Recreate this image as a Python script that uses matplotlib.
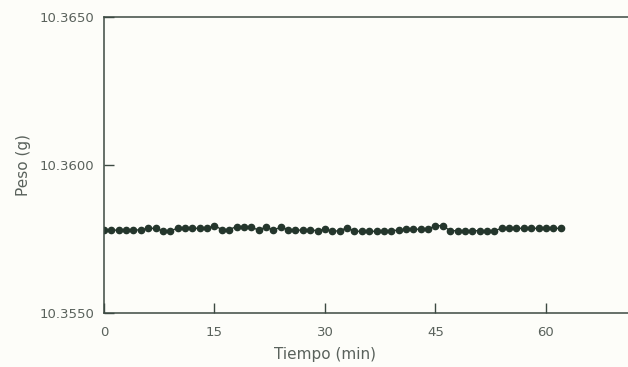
import matplotlib
matplotlib.use("Agg")
import matplotlib.pyplot as plt
import numpy as np

# Data: time (min) and weight (g)
tiempo = list(range(0, 63))
peso = [
    10.35780, 10.35780, 10.35780, 10.35780, 10.35780, 10.35781,   # 0-5
    10.35786, 10.35786,                                           # 6-7
    10.35777, 10.35778,                                           # 8-9
    10.35786, 10.35786, 10.35786, 10.35786, 10.35786,             # 10-14
    10.35795,                                                     # 15
    10.35782, 10.35782,                                           # 16-17
    10.35792, 10.35792, 10.35790,                                 # 18-20
    10.35780,                                                     # 21
    10.35791,                                                     # 22
    10.35780,                                                     # 23
    10.35790,                                                     # 24
    10.35782, 10.35780, 10.35780, 10.35782, 10.35777,             # 25-29
    10.35784, 10.35776, 10.35778, 10.35788, 10.35776,             # 30-34
    10.35776, 10.35776, 10.35776, 10.35776, 10.35778, 10.35780,   # 35-40
    10.35783, 10.35783, 10.35783, 10.35783,                       # 41-44
    10.35795, 10.35795,                                           # 45-46
    10.35778, 10.35778, 10.35778, 10.35778, 10.35778, 10.35778, 10.35778,  # 47-53
    10.35786, 10.35786, 10.35786, 10.35786, 10.35786, 10.35786, 10.35786, 10.35786, 10.35786,  # 54-62
]
xticks = [0, 15, 30, 45, 60]
yticks = [10.3550, 10.3600, 10.3650]
ytick_labels = ["10.3550", "10.3600", "10.3650"]

axis_col = "#3c4a42"
text_col = "#5a625c"
dot_col = "#24362c"

fig = plt.figure(figsize=(6.28, 3.67), dpi=100, facecolor="#fdfdf9")
ax = fig.add_axes([104/628, 1 - 313/367, 1 - 104/628 + 0.01, (313 - 17)/367])
ax.set_facecolor("#fdfdf9")

ax.plot(tiempo, peso, "-o", color=dot_col, lw=1.0, ms=4.5, mec=dot_col, mfc=dot_col)

ax.set_xlim(0, 72)
ax.set_ylim(10.3550, 10.3650)
ax.set_xticks(xticks)
ax.set_xticklabels([str(v) for v in xticks])
ax.set_yticks(yticks)
ax.set_yticklabels(ytick_labels)

for s in ["left", "bottom", "top"]:
    ax.spines[s].set_color(axis_col)
    ax.spines[s].set_linewidth(1.1)
ax.spines["right"].set_visible(False)

ax.tick_params(axis="both", direction="in", length=7, width=1.0, color=axis_col,
               labelcolor=text_col, labelsize=9.5)
ax.tick_params(axis="x", pad=9)
ax.tick_params(axis="y", pad=7)

# x label centred under the 0-60 span
ax.text(30, -0.14, "Tiempo (min)", transform=ax.get_xaxis_transform(),
        ha="center", va="center", fontsize=11, color=text_col)
ax.set_ylabel("Peso (g)", fontsize=11, color=text_col, labelpad=6)

fig.savefig("out.png", dpi=100, facecolor=fig.get_facecolor())
